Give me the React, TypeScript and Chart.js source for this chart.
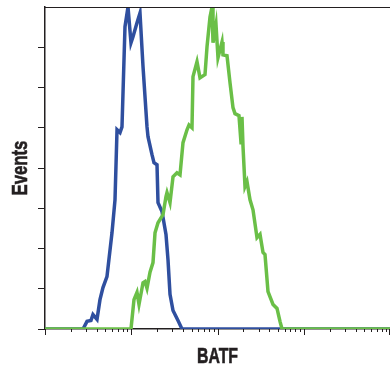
import React, { useEffect, useRef } from "react";
import { Chart, registerables } from "chart.js";

Chart.register(...registerables);

// Fluorescence intensity (log scale) and event counts
const blueX = [1, 2.76, 3.07, 3.41, 3.6, 4.01, 4.34, 4.7, 5.23, 5.98, 6.48, 6.84, 7.41, 7.81, 8.46, 9.17, 9.93, 10.48, 11.66, 12.63, 13.69, 15.23, 15.64, 17.4, 18.35, 19.89, 20.43, 22.72, 25.28, 26.68, 28.14, 30.49, 34.83, 38.75, 10000];
const blueY = [0, 0, 0.19, 0.21, 0.36, 0.24, 0.73, 1.03, 1.3, 2.39, 3.21, 4.95, 4.88, 5.02, 7.51, 8.0, 7.11, 7.26, 7.61, 7.85, 6.52, 5.02, 4.78, 4.33, 4.13, 4.08, 3.14, 2.92, 2.35, 1.72, 0.86, 0.46, 0.21, 0, 0];

const greenX = [1, 9.93, 10.76, 11.66, 12.3, 13.69, 14.43, 15.23, 16.5, 17.87, 18.86, 20.43, 23.34, 25.28, 25.97, 28.14, 30.49, 33.91, 36.75, 39.81, 44.31, 46.73, 50.62, 51.98, 57.86, 62.69, 71.65, 75.56, 81.85, 86.37, 88.68, 96.07, 101.3, 112.8, 115.8, 128.9, 139.6, 151.2, 159.6, 177.5, 187.3, 192.3, 197.6, 208.4, 219.8, 238.2, 258.0, 287.1, 311.1, 337.0, 355.4, 385.1, 440.2, 489.7, 530.4, 559.5, 10000];
const greenY = [0, 0, 0.73, 0.91, 0.61, 1.15, 1.18, 1.01, 1.41, 1.65, 2.39, 2.64, 2.84, 3.29, 3.39, 3.14, 3.78, 3.88, 3.83, 4.63, 4.95, 5.07, 5.0, 6.27, 6.64, 6.24, 6.32, 7.01, 7.75, 8.0, 7.11, 7.56, 6.74, 7.13, 6.81, 6.79, 6.12, 5.5, 5.35, 5.3, 4.63, 5.27, 4.53, 3.54, 3.66, 3.21, 2.96, 2.27, 2.35, 1.9, 1.85, 0.93, 0.61, 0.51, 0.19, 0, 0];

const xMajorTicks = [1, 10, 100, 1000, 10000];
const xMinorMultiples = [2, 3, 4, 5, 6, 7, 8, 9];
const yMin = 0;
const yMax = 8;
const xTitle = "BATF";
const yTitle = "Events";

const AXIS_COLOR = "#231f20";
const TITLE_FONT = "bold 22px 'Liberation Sans', Arial, sans-serif";

const framePlugin = {
  id: "frame",
  afterDraw(chart: any) {
    const { ctx, chartArea, scales } = chart;
    const xs = scales.x;
    ctx.save();
    ctx.strokeStyle = AXIS_COLOR;
    ctx.lineWidth = 1;
    ctx.beginPath();
    ctx.moveTo(chartArea.left, chartArea.top + 0.5);
    ctx.lineTo(chartArea.right, chartArea.top + 0.5);
    const base = chartArea.bottom;
    const clampX = (p: number) => Math.min(Math.max(Math.round(p) + 0.5, 0.5), chart.width - 0.5);
    for (let i = 0; i < xMajorTicks.length; i++) {
      const m = xMajorTicks[i];
      const px = clampX(xs.getPixelForValue(m));
      ctx.moveTo(px, base);
      ctx.lineTo(px, base + 6);
      if (i < xMajorTicks.length - 1) {
        for (const k of xMinorMultiples) {
          const mp = clampX(xs.getPixelForValue(m * k));
          ctx.moveTo(mp, base);
          ctx.lineTo(mp, base + 3);
        }
      }
    }
    ctx.stroke();

    // condensed bold axis titles
    ctx.font = TITLE_FONT;
    ctx.fillStyle = AXIS_COLOR;
    ctx.strokeStyle = AXIS_COLOR;
    ctx.lineWidth = 0.6;
    ctx.textAlign = "center";
    ctx.textBaseline = "alphabetic";
    ctx.save();
    ctx.translate((chartArea.left + chartArea.right) / 2, 362.5);
    ctx.scale(0.72, 1);
    ctx.fillText(xTitle, 0, 0);
    ctx.strokeText(xTitle, 0, 0);
    ctx.restore();
    ctx.save();
    ctx.translate(27, (chartArea.top + chartArea.bottom) / 2);
    ctx.rotate(-Math.PI / 2);
    ctx.scale(0.76, 1);
    ctx.fillText(yTitle, 0, 0);
    ctx.strokeText(yTitle, 0, 0);
    ctx.restore();
    ctx.restore();
  },
};

export default function App() {
  const ref = useRef<HTMLCanvasElement | null>(null);

  useEffect(() => {
    document.body.style.margin = "0";
    const canvas = ref.current;
    if (!canvas) return;
    const chart = new Chart(canvas, {
      type: "line",
      data: {
        datasets: [
          {
            label: "BATF",
            data: greenX.map((x, i) => ({ x, y: greenY[i] })),
            borderColor: "#6abf47",
            borderWidth: 3.5,
            pointRadius: 0,
            tension: 0,
            fill: false,
          },
          {
            label: "Control",
            data: blueX.map((x, i) => ({ x, y: blueY[i] })),
            borderColor: "#2f4f9f",
            borderWidth: 3.5,
            pointRadius: 0,
            tension: 0,
            fill: false,
          },
        ],
      },
      options: {
        animation: false,
        responsive: false,
        maintainAspectRatio: false,
        devicePixelRatio: 1,
        layout: { padding: { top: 7, right: 0, bottom: 0, left: 0 } },
        plugins: { legend: { display: false }, tooltip: { enabled: false } },
        scales: {
          x: {
            type: "logarithmic",
            min: 1,
            max: 10000,
            ticks: { display: false },
            grid: { display: false },
            border: { display: true, color: AXIS_COLOR, width: 1.5 },
            title: { display: false, text: xTitle },
            afterFit: (s: any) => {
              s.height = 45;
            },
          },
          y: {
            type: "linear",
            min: yMin,
            max: yMax,
            ticks: { display: false, stepSize: 1 },
            grid: {
              drawOnChartArea: false,
              drawTicks: true,
              tickLength: 7,
              color: (c: any) => (c.tick && c.tick.value === yMax ? "rgba(0,0,0,0)" : AXIS_COLOR),
              tickColor: (c: any) => (c.tick && c.tick.value === yMax ? "rgba(0,0,0,0)" : AXIS_COLOR),
              lineWidth: 1,
            },
            border: { display: true, color: AXIS_COLOR, width: 1.5 },
            title: { display: false, text: yTitle },
            afterFit: (s: any) => {
              s.width = 45;
            },
          },
        },
      },
      plugins: [framePlugin],
    });
    return () => chart.destroy();
  }, []);

  return (
    <div style={{ width: 390, height: 374, position: "relative", background: "#fff" }}>
      <canvas ref={ref} width={390} height={374} />
    </div>
  );
}
